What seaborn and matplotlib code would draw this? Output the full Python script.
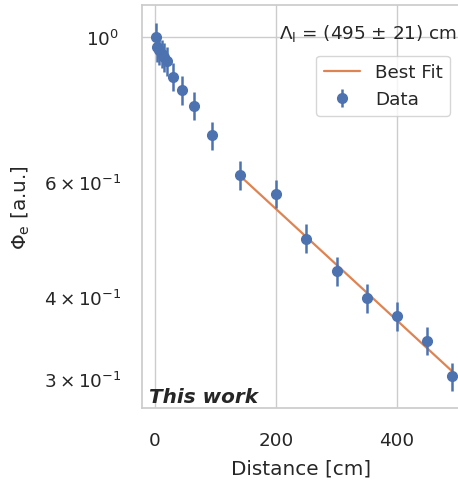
import numpy as np
import pandas as pd
import matplotlib
matplotlib.use("Agg")
import matplotlib.pyplot as plt
import seaborn as sns

# Data
distance = [2, 3, 7, 11, 15, 19, 29, 44, 64, 94, 140, 200, 250, 300, 350, 400, 450, 490]
flux = [1.0, 0.965, 0.955, 0.942, 0.932, 0.919, 0.870, 0.830, 0.785, 0.707,
        0.615, 0.576, 0.492, 0.439, 0.399, 0.374, 0.343, 0.303]
flux_err = [0.050, 0.048, 0.048, 0.047, 0.047, 0.046, 0.044, 0.042, 0.039, 0.035,
            0.031, 0.029, 0.025, 0.022, 0.020, 0.019, 0.017, 0.015]

fit_x = [140, 490]
fit_y = [0.614, 0.309]

sns.set_theme(style="whitegrid", font_scale=1.2)
pal = sns.color_palette("deep")

W, H = 458, 485
fig = plt.figure(figsize=(W / 100, H / 100), dpi=100)
L, R, T, B = 142, 460, 6, 409
ax = fig.add_axes([L / W, (H - B) / H, (R - L) / W, (B - T) / H])

fit_df = pd.DataFrame({"x": fit_x, "y": fit_y})
sns.lineplot(data=fit_df, x="x", y="y", ax=ax, color=pal[1], lw=1.6,
             label="Best Fit", zorder=2)
ax.errorbar(distance, flux, yerr=flux_err, fmt="o", color=pal[0], ms=7,
            elinewidth=1.8, capsize=0, label="Data", zorder=3)

ax.set_yscale("log")
ax.set_xlim(-21.5, 504)
ax.set_ylim(0.271, 1.119)
ax.set_xticks([0, 200, 400])

base_pad = plt.rcParams["xtick.major.pad"]
ax.tick_params(axis="both", which="both", pad=base_pad + 7.2)
ax.set_xlabel("Distance [cm]", labelpad=plt.rcParams["axes.labelpad"] + 3)
ax.set_ylabel(r"$\Phi_\mathrm{e}$ [a.u.]", labelpad=plt.rcParams["axes.labelpad"] + 5)

ax.text(0.99, 0.933, r"$\Lambda_\mathrm{l}$ = (495 ± 21) cm", transform=ax.transAxes,
        ha="right", va="center", fontsize=13.2)
ax.text(0.022, 0.0157, "This work", transform=ax.transAxes, ha="left",
        va="baseline", fontsize=14.4, fontweight="bold", fontstyle="italic",
        color="#262626")

ax.legend(loc="upper right", bbox_to_anchor=(0.969, 0.874), borderaxespad=0)

fig.savefig("out.png", dpi=100)
